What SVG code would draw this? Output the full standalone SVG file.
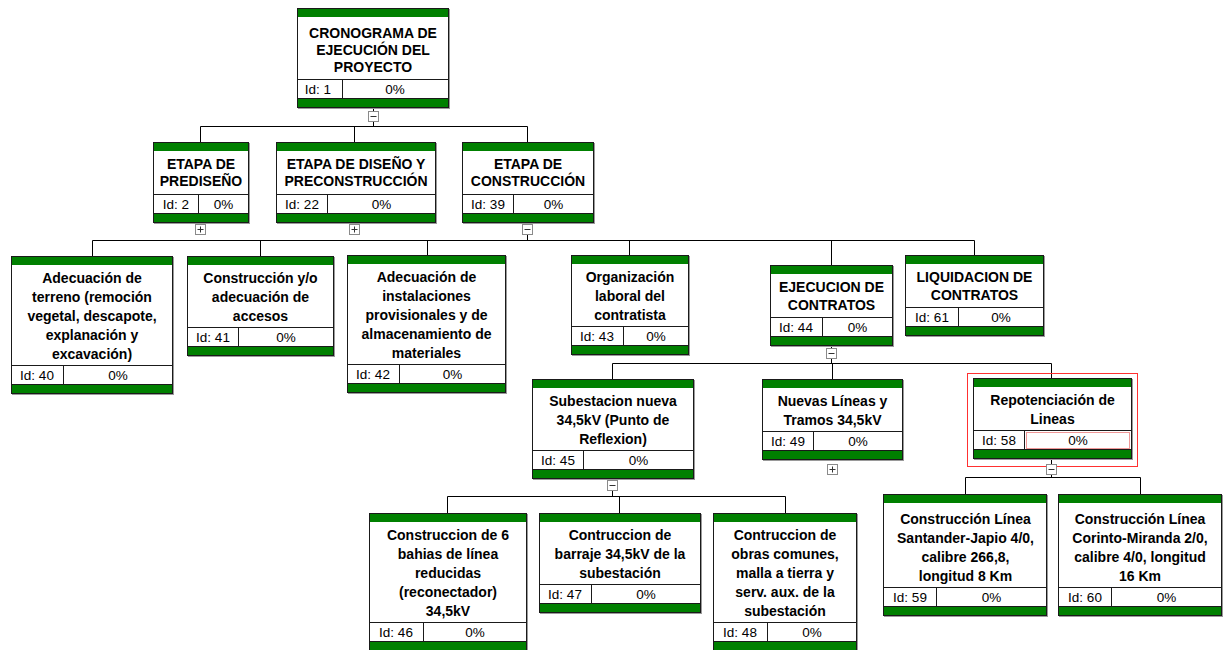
<svg xmlns="http://www.w3.org/2000/svg" width="1228" height="650" viewBox="0 0 1228 650">
<style>
.sh{fill:#9a9a9a}
.bx{fill:#fff;stroke:#1a1a1a;stroke-width:1}
.gb{fill:#008000}
.ln{stroke:#1a1a1a;stroke-width:1;fill:none}
.t{font-family:"Liberation Sans",Arial,sans-serif;font-weight:bold;font-size:14px;fill:#000;text-anchor:middle}
.i{font-family:"Liberation Sans",Arial,sans-serif;font-size:13.5px;fill:#000;text-anchor:middle}
.c{stroke:#000;stroke-width:1;fill:none}
.tg{fill:#fff;stroke:#8a8a8a;stroke-width:1}
.tm{stroke:#333;stroke-width:1;fill:none}
</style>
<rect width="1228" height="650" fill="#fff"/>

<g id="connectors">
<path class="c" d="M373.5 108V126.5M200.5 126.5H527.5M200.5 126.5V142M354.5 126.5V142M527.5 126.5V142"/>
<path class="c" d="M527.5 223V240.5M92.5 240.5H974.5M92.5 240.5V256M260.5 240.5V256M427.5 240.5V255M629.5 240.5V255M831.5 240.5V265M974.5 240.5V255"/>
<path class="c" d="M831.5 346V363.5M612.5 363.5H1051.5M612.5 363.5V379M832.5 363.5V379M1051.5 363.5V378"/>
<path class="c" d="M612.5 479V496.5M447.5 496.5H785.5M447.5 496.5V513M619.5 496.5V513M785.5 496.5V513"/>
<path class="c" d="M1051.5 459V477.5M965.5 477.5H1140.5M965.5 477.5V494M1140.5 477.5V494"/>
</g>

<g id="n1">
<rect class="sh" x="298" y="9" width="152" height="100"/>
<rect class="bx" x="297.5" y="8.5" width="151" height="99"/>
<rect class="gb" x="298" y="9" width="150" height="8"/>
<rect class="gb" x="298" y="98" width="150" height="9"/>
<path class="ln" d="M297.5 79.5H448.5M297.5 98.5H448.5M342.5 79.5V98.5"/>
<text class="t" x="373" y="38">CRONOGRAMA DE</text>
<text class="t" x="373" y="55">EJECUCIÓN DEL</text>
<text class="t" x="373" y="72">PROYECTO</text>
<text class="i" x="318" y="94">Id: 1</text>
<text class="i" x="395" y="94">0%</text>
</g>
<g id="tg1"><rect class="tg" x="368.5" y="111.5" width="10" height="10"/><path class="tm" d="M370.5 116.5H376.5"/></g>

<g id="n2">
<rect class="sh" x="154" y="143" width="96" height="81"/>
<rect class="bx" x="153.5" y="142.5" width="95" height="80"/>
<rect class="gb" x="154" y="143" width="94" height="8"/>
<rect class="gb" x="154" y="213" width="94" height="9"/>
<path class="ln" d="M153.5 194.5H248.5M153.5 213.5H248.5M198.5 194.5V213.5"/>
<text class="t" x="201" y="168.5">ETAPA DE</text>
<text class="t" x="201" y="186">PREDISEÑO</text>
<text class="i" x="176" y="209">Id: 2</text>
<text class="i" x="223.5" y="209">0%</text>
</g>
<g id="tg2"><rect class="tg" x="195.5" y="224.5" width="10" height="10"/><path class="tm" d="M197.5 229.5H203.5M200.5 226.5V232.5"/></g>

<g id="n22">
<rect class="sh" x="277" y="143" width="160" height="81"/>
<rect class="bx" x="276.5" y="142.5" width="159" height="80"/>
<rect class="gb" x="277" y="143" width="158" height="8"/>
<rect class="gb" x="277" y="213" width="158" height="9"/>
<path class="ln" d="M276.5 194.5H435.5M276.5 213.5H435.5M327.5 194.5V213.5"/>
<text class="t" x="356" y="168.5">ETAPA DE DISEÑO Y</text>
<text class="t" x="356" y="186">PRECONSTRUCCIÓN</text>
<text class="i" x="302" y="209">Id: 22</text>
<text class="i" x="381.5" y="209">0%</text>
</g>
<g id="tg22"><rect class="tg" x="349.5" y="224.5" width="10" height="10"/><path class="tm" d="M351.5 229.5H357.5M354.5 226.5V232.5"/></g>

<g id="n39">
<rect class="sh" x="463" y="143" width="132" height="81"/>
<rect class="bx" x="462.5" y="142.5" width="131" height="80"/>
<rect class="gb" x="463" y="143" width="130" height="8"/>
<rect class="gb" x="463" y="213" width="130" height="9"/>
<path class="ln" d="M462.5 194.5H593.5M462.5 213.5H593.5M513.5 194.5V213.5"/>
<text class="t" x="528" y="168.5">ETAPA DE</text>
<text class="t" x="528" y="186">CONSTRUCCIÓN</text>
<text class="i" x="488" y="209">Id: 39</text>
<text class="i" x="553.5" y="209">0%</text>
</g>
<g id="tg39"><rect class="tg" x="522.5" y="224.5" width="10" height="10"/><path class="tm" d="M524.5 229.5H530.5"/></g>

<g id="n40">
<rect class="sh" x="12" y="257" width="162" height="138"/>
<rect class="bx" x="11.5" y="256.5" width="161" height="137"/>
<rect class="gb" x="12" y="257" width="160" height="8"/>
<rect class="gb" x="12" y="384" width="160" height="9"/>
<path class="ln" d="M11.5 365.5H172.5M11.5 384.5H172.5M63.5 365.5V384.5"/>
<text class="t" x="92" y="282.5">Adecuación de</text>
<text class="t" x="92" y="301.5">terreno (remoción</text>
<text class="t" x="92" y="320.5">vegetal, descapote,</text>
<text class="t" x="92" y="339.5">explanación y</text>
<text class="t" x="92" y="358.5">excavación)</text>
<text class="i" x="37" y="380">Id: 40</text>
<text class="i" x="118" y="380">0%</text>
</g>

<g id="n41">
<rect class="sh" x="188" y="257" width="147" height="100"/>
<rect class="bx" x="187.5" y="256.5" width="146" height="99"/>
<rect class="gb" x="188" y="257" width="145" height="8"/>
<rect class="gb" x="188" y="346" width="145" height="9"/>
<path class="ln" d="M187.5 327.5H333.5M187.5 346.5H333.5M238.5 327.5V346.5"/>
<text class="t" x="260.5" y="282.5">Construcción y/o</text>
<text class="t" x="260.5" y="301.5">adecuación de</text>
<text class="t" x="260.5" y="320.5">accesos</text>
<text class="i" x="213" y="342">Id: 41</text>
<text class="i" x="286" y="342">0%</text>
</g>

<g id="n42">
<rect class="sh" x="348" y="256" width="159" height="138"/>
<rect class="bx" x="347.5" y="255.5" width="158" height="137"/>
<rect class="gb" x="348" y="256" width="157" height="8"/>
<rect class="gb" x="348" y="383" width="157" height="9"/>
<path class="ln" d="M347.5 364.5H505.5M347.5 383.5H505.5M399.5 364.5V383.5"/>
<text class="t" x="426.5" y="281.5">Adecuación de</text>
<text class="t" x="426.5" y="300.5">instalaciones</text>
<text class="t" x="426.5" y="319.5">provisionales y de</text>
<text class="t" x="426.5" y="338.5">almacenamiento de</text>
<text class="t" x="426.5" y="357.5">materiales</text>
<text class="i" x="373" y="379">Id: 42</text>
<text class="i" x="452.5" y="379">0%</text>
</g>

<g id="n43">
<rect class="sh" x="572" y="256" width="118" height="100"/>
<rect class="bx" x="571.5" y="255.5" width="117" height="99"/>
<rect class="gb" x="572" y="256" width="116" height="8"/>
<rect class="gb" x="572" y="345" width="116" height="9"/>
<path class="ln" d="M571.5 326.5H688.5M571.5 345.5H688.5M623.5 326.5V345.5"/>
<text class="t" x="630" y="281.5">Organización</text>
<text class="t" x="630" y="300.5">laboral del</text>
<text class="t" x="630" y="319.5">contratista</text>
<text class="i" x="597" y="341">Id: 43</text>
<text class="i" x="656" y="341">0%</text>
</g>

<g id="n44">
<rect class="sh" x="771" y="266" width="123" height="81"/>
<rect class="bx" x="770.5" y="265.5" width="122" height="80"/>
<rect class="gb" x="771" y="266" width="121" height="8"/>
<rect class="gb" x="771" y="336" width="121" height="9"/>
<path class="ln" d="M770.5 317.5H892.5M770.5 336.5H892.5M822.5 317.5V336.5"/>
<text class="t" x="831.5" y="292">EJECUCION DE</text>
<text class="t" x="831.5" y="309.5">CONTRATOS</text>
<text class="i" x="796" y="332">Id: 44</text>
<text class="i" x="857.5" y="332">0%</text>
</g>
<g id="tg44"><rect class="tg" x="826.5" y="348.5" width="10" height="10"/><path class="tm" d="M828.5 353.5H834.5"/></g>

<g id="n61">
<rect class="sh" x="906" y="256" width="139" height="81"/>
<rect class="bx" x="905.5" y="255.5" width="138" height="80"/>
<rect class="gb" x="906" y="256" width="137" height="8"/>
<rect class="gb" x="906" y="326" width="137" height="9"/>
<path class="ln" d="M905.5 307.5H1043.5M905.5 326.5H1043.5M958.5 307.5V326.5"/>
<text class="t" x="974.5" y="282">LIQUIDACION DE</text>
<text class="t" x="974.5" y="299.5">CONTRATOS</text>
<text class="i" x="932" y="322">Id: 61</text>
<text class="i" x="1001" y="322">0%</text>
</g>

<g id="n45">
<rect class="sh" x="533" y="380" width="162" height="100"/>
<rect class="bx" x="532.5" y="379.5" width="161" height="99"/>
<rect class="gb" x="533" y="380" width="160" height="8"/>
<rect class="gb" x="533" y="469" width="160" height="9"/>
<path class="ln" d="M532.5 450.5H693.5M532.5 469.5H693.5M583.5 450.5V469.5"/>
<text class="t" x="613" y="405.5">Subestacion nueva</text>
<text class="t" x="613" y="424.5">34,5kV (Punto de</text>
<text class="t" x="613" y="443.5">Reflexion)</text>
<text class="i" x="558" y="465">Id: 45</text>
<text class="i" x="638.5" y="465">0%</text>
</g>
<g id="tg45"><rect class="tg" x="607.5" y="480.5" width="10" height="10"/><path class="tm" d="M609.5 485.5H615.5"/></g>

<g id="n49">
<rect class="sh" x="763" y="380" width="141" height="81"/>
<rect class="bx" x="762.5" y="379.5" width="140" height="80"/>
<rect class="gb" x="763" y="380" width="139" height="8"/>
<rect class="gb" x="763" y="450" width="139" height="9"/>
<path class="ln" d="M762.5 431.5H902.5M762.5 450.5H902.5M813.5 431.5V450.5"/>
<text class="t" x="832.5" y="405.5">Nuevas Líneas y</text>
<text class="t" x="832.5" y="424.5">Tramos 34,5kV</text>
<text class="i" x="788" y="446">Id: 49</text>
<text class="i" x="858" y="446">0%</text>
</g>
<g id="tg49"><rect class="tg" x="827.5" y="464.5" width="10" height="10"/><path class="tm" d="M829.5 469.5H835.5M832.5 466.5V472.5"/></g>

<g id="n58">
<rect x="967.5" y="373.5" width="170" height="93" fill="none" stroke="#ff3030" stroke-width="1"/>
<rect class="sh" x="974" y="379" width="159" height="81"/>
<rect class="bx" x="973.5" y="378.5" width="158" height="80"/>
<rect class="gb" x="974" y="379" width="157" height="8"/>
<rect class="gb" x="974" y="449" width="157" height="9"/>
<path class="ln" d="M973.5 430.5H1131.5M973.5 449.5H1131.5M1024.5 430.5V449.5"/>
<rect x="1026.5" y="432.5" width="103" height="16" fill="none" stroke="#e03030" stroke-width="1" stroke-dasharray="1,1"/>
<text class="t" x="1052.5" y="404.5">Repotenciación de</text>
<text class="t" x="1052.5" y="423.5">Lineas</text>
<text class="i" x="999" y="445">Id: 58</text>
<text class="i" x="1078" y="445">0%</text>
</g>
<g id="tg58"><rect class="tg" x="1046.5" y="464.5" width="10" height="10"/><path class="tm" d="M1048.5 469.5H1054.5"/></g>

<g id="n46">
<rect class="sh" x="370" y="514" width="158" height="138"/>
<rect class="bx" x="369.5" y="513.5" width="157" height="137"/>
<rect class="gb" x="370" y="514" width="156" height="8"/>
<rect class="gb" x="370" y="641" width="156" height="10"/>
<path class="ln" d="M369.5 622.5H526.5M369.5 641.5H526.5M423.5 622.5V641.5"/>
<text class="t" x="448" y="539.5">Construccion de 6</text>
<text class="t" x="448" y="558.5">bahias de línea</text>
<text class="t" x="448" y="577.5">reducidas</text>
<text class="t" x="448" y="596.5">(reconectador)</text>
<text class="t" x="448" y="615.5">34,5kV</text>
<text class="i" x="396" y="637">Id: 46</text>
<text class="i" x="475" y="637">0%</text>
</g>

<g id="n47">
<rect class="sh" x="540" y="514" width="162" height="100"/>
<rect class="bx" x="539.5" y="513.5" width="161" height="99"/>
<rect class="gb" x="540" y="514" width="160" height="8"/>
<rect class="gb" x="540" y="603" width="160" height="9"/>
<path class="ln" d="M539.5 584.5H700.5M539.5 603.5H700.5M591.5 584.5V603.5"/>
<text class="t" x="620" y="539.5">Contruccion de</text>
<text class="t" x="620" y="558.5">barraje 34,5kV de la</text>
<text class="t" x="620" y="577.5">subestación</text>
<text class="i" x="565" y="599">Id: 47</text>
<text class="i" x="646" y="599">0%</text>
</g>

<g id="n48">
<rect class="sh" x="714" y="514" width="144" height="138"/>
<rect class="bx" x="713.5" y="513.5" width="143" height="137"/>
<rect class="gb" x="714" y="514" width="142" height="8"/>
<rect class="gb" x="714" y="641" width="142" height="10"/>
<path class="ln" d="M713.5 622.5H856.5M713.5 641.5H856.5M767.5 622.5V641.5"/>
<text class="t" x="785" y="539.5">Contruccion de</text>
<text class="t" x="785" y="558.5">obras comunes,</text>
<text class="t" x="785" y="577.5">malla a tierra y</text>
<text class="t" x="785" y="596.5">serv. aux. de la</text>
<text class="t" x="785" y="615.5">subestación</text>
<text class="i" x="740" y="637">Id: 48</text>
<text class="i" x="812" y="637">0%</text>
</g>

<g id="n59">
<rect class="sh" x="884" y="495" width="164" height="122"/>
<rect class="bx" x="883.5" y="494.5" width="163" height="121"/>
<rect class="gb" x="884" y="495" width="162" height="8"/>
<rect class="gb" x="884" y="606" width="162" height="9"/>
<path class="ln" d="M883.5 587.5H1046.5M883.5 606.5H1046.5M936.5 587.5V606.5"/>
<text class="t" x="965.5" y="524">Construcción Línea</text>
<text class="t" x="965.5" y="543">Santander-Japio 4/0,</text>
<text class="t" x="965.5" y="562">calibre 266,8,</text>
<text class="t" x="965.5" y="581">longitud 8 Km</text>
<text class="i" x="910" y="602">Id: 59</text>
<text class="i" x="991.5" y="602">0%</text>
</g>

<g id="n60">
<rect class="sh" x="1059" y="495" width="164" height="122"/>
<rect class="bx" x="1058.5" y="494.5" width="163" height="121"/>
<rect class="gb" x="1059" y="495" width="162" height="8"/>
<rect class="gb" x="1059" y="606" width="162" height="9"/>
<path class="ln" d="M1058.5 587.5H1221.5M1058.5 606.5H1221.5M1111.5 587.5V606.5"/>
<text class="t" x="1140" y="524">Construcción Línea</text>
<text class="t" x="1140" y="543">Corinto-Miranda 2/0,</text>
<text class="t" x="1140" y="562">calibre 4/0, longitud</text>
<text class="t" x="1140" y="581">16 Km</text>
<text class="i" x="1085" y="602">Id: 60</text>
<text class="i" x="1166.5" y="602">0%</text>
</g>
</svg>
